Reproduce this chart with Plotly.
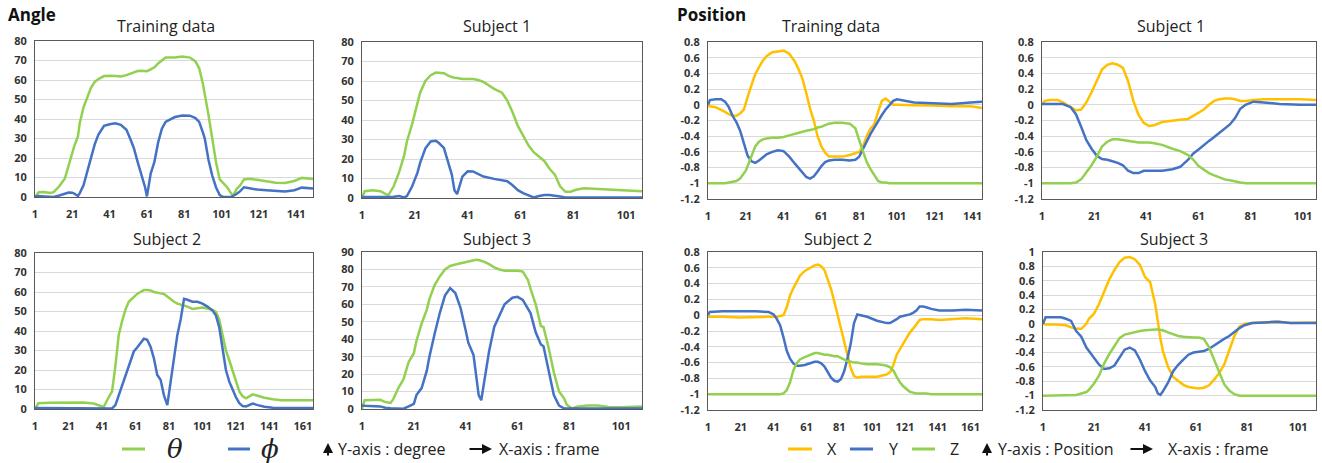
import plotly.graph_objects as go

W, H = 1322, 463

# ---------------- DATA ----------------
# Angle - Training data
ang_train_frames = [1, 3, 6, 9, 11, 14, 17, 19, 21, 22, 24, 25, 27, 29, 31, 33, 35, 38, 41, 44, 47, 50, 52, 54, 56, 58, 60, 61, 63, 65, 67, 69, 71, 73, 76, 80, 84, 87, 89, 91, 92, 94, 96, 98, 100, 102, 104, 106, 107, 109, 111, 113, 116, 120, 125, 130, 135, 140, 144, 150]
ang_train_theta = [0, 2.5, 2.6, 2.1, 2.5, 5.5, 9.5, 16, 23, 26, 31, 38, 46, 51, 56, 59, 60.5, 62, 62.2, 62, 61.8, 62.5, 63.2, 64, 64.6, 64.8, 64.5, 64.5, 65.5, 66.5, 68.5, 70, 71.5, 71.6, 71.6, 72, 71.5, 69.5, 66, 58, 53, 42, 30, 18, 9, 7, 5, 2, 0.5, 4, 6, 9, 9.3, 8.8, 8, 7.3, 7.2, 8.2, 9.8, 9.2]
ang_train_phi = [0.3, 0.5, 0.3, 0, 0, 0.8, 1.8, 2.3, 2.2, 1.8, 0.5, 2, 6, 13, 19, 27, 32, 36.5, 37.3, 37.8, 37, 34.5, 30, 25, 18, 12, 5, 0.3, 12, 18, 28, 35, 38.5, 39.5, 41, 41.8, 41.7, 40.5, 38.5, 33, 30, 19, 11, 5, 1, 0, 0, 0, 0.5, 1.5, 3, 5, 4.5, 3.8, 3.5, 3, 2.8, 3.5, 4.8, 4.3]

# Angle - Subject 1
ang_s1_frames = [1, 2, 5, 8, 10, 11, 13, 15, 17, 18, 20, 22, 23, 25, 27, 29, 30, 32, 34, 35, 36, 37, 39, 41, 43, 45, 47, 51, 54, 56, 58, 60, 62, 64, 66, 68, 70, 72, 74, 76, 78, 80, 82, 85, 90, 95, 100, 107]
ang_s1_theta = [0, 3.5, 4, 3.5, 2, 1.5, 6, 13, 22, 29, 38, 48, 54, 60, 63, 64.3, 64.3, 64, 62.5, 62, 61.7, 61.5, 61, 61, 61, 60.5, 59.5, 56, 54, 50, 44, 37, 32, 27, 23.5, 21, 19, 15, 12, 6, 3.2, 3.2, 4.2, 5, 4.7, 4.2, 3.8, 3.5]
ang_s1_phi = [0.5, 0.5, 0.5, 0.5, 0.5, 0.5, 0.6, 1, 0.3, 1, 6, 13, 18, 25.5, 29, 29.3, 28.3, 25.7, 17, 12, 4, 2, 11, 13.7, 13.6, 12.2, 11, 9.8, 9.3, 8.6, 6.5, 4, 2.5, 1.2, 0.3, 1, 1.5, 1.5, 1.3, 0.8, 0.3, 0.3, 0.5, 0.5, 0.5, 0.4, 0.3, 0.3]

# Angle - Subject 2
ang_s2_frames = [1, 3, 10, 20, 30, 36, 40, 42, 45, 47, 49, 51, 53, 55, 57, 60, 62, 64, 66, 68, 70, 72, 74, 76, 78, 80, 82, 84, 86, 88, 90, 92, 95, 98, 101, 104, 107, 109, 111, 113, 115, 117, 119, 121, 123, 125, 127, 129, 131, 134, 138, 143, 148, 155, 167]
ang_s2_theta = [0, 3, 3.2, 3.3, 3.3, 2.8, 1.8, 1, 6, 9, 22, 38, 45, 51, 55, 57.5, 59, 60, 61, 61, 60.8, 60, 59.5, 59.3, 59, 57.5, 56.5, 55, 54, 53.5, 53.3, 52.5, 51.3, 51.6, 52, 51.5, 50.8, 49.8, 46, 38, 30, 25, 20, 14, 9, 6.5, 5.5, 6.5, 7.5, 6.8, 5.8, 5, 4.5, 4.5, 4.5]
ang_s2_phi = [0.5, 0.5, 0.5, 0.5, 0.5, 0.5, 0.4, 0.3, 0.3, 0.3, 2, 7, 12, 18, 23, 29.5, 31.5, 33.5, 36, 35.5, 32, 26, 17.5, 15, 7, 2, 14, 24, 38, 46, 56.5, 56, 55, 55, 54, 52.5, 50.5, 48, 42, 31, 20, 14, 10, 6, 3, 1.5, 1.3, 2, 2.8, 2, 1.2, 0.7, 0.5, 0.5, 0.5]

# Angle - Subject 3
ang_s3_frames = [1, 2, 8, 10, 12, 13, 15, 17, 19, 21, 22, 24, 26, 27, 29, 31, 33, 35, 37, 39, 41, 42, 44, 45, 46, 47, 48, 50, 52, 54, 56, 59, 61, 63, 65, 66, 68, 70, 71, 73, 75, 77, 79, 80, 82, 84, 88, 92, 96, 101, 109]
ang_s3_theta = [0, 5, 5.3, 4, 3.5, 5.5, 12, 17, 27, 32, 39, 49, 57, 63, 71, 76, 80, 82, 82.8, 83.5, 84.3, 84.6, 85.2, 85.5, 85.4, 85, 84.5, 83, 81.2, 80, 79.3, 79.3, 79.3, 78.8, 74, 69, 60, 47.5, 47, 35, 21, 10, 6, 2.5, 0.3, 1.3, 2, 2, 1.2, 1, 1.5]
ang_s3_phi = [2, 1.8, 1.5, 0.7, 0.4, 0.3, 0.2, 0.2, 1.5, 3, 8, 12, 22, 30, 43, 55, 65, 69.3, 66.5, 58, 45, 38, 31, 20, 8, 5, 15, 33, 47, 54, 60, 63.8, 64.3, 62.5, 58, 55, 44, 37, 36, 21, 8, 2, 0.3, 0.3, 0.3, 0.3, 0.3, 0.3, 0.3, 0.3, 0.3]

# Position - Training data
pos_train_frames = [1, 2, 5, 8, 10, 12, 14, 16, 18, 20, 21, 22, 24, 26, 28, 30, 32, 35, 38, 41, 44, 47, 49, 51, 53, 55, 57, 59, 61, 63, 65, 68, 72, 76, 79, 81, 83, 85, 87, 89, 91, 93, 95, 97, 99, 101, 105, 110, 120, 130, 140, 146]
pos_train_x = [-0.02, -0.02, -0.03, -0.06, -0.09, -0.12, -0.14, -0.14, -0.11, -0.06, 0.03, 0.1, 0.25, 0.39, 0.48, 0.56, 0.62, 0.67, 0.68, 0.69, 0.65, 0.55, 0.45, 0.33, 0.15, -0.05, -0.2, -0.4, -0.53, -0.61, -0.66, -0.66, -0.66, -0.64, -0.62, -0.6, -0.53, -0.4, -0.3, -0.25, -0.09, 0.05, 0.08, 0.04, 0.0, 0.0, 0.0, -0.005, -0.01, -0.02, -0.02, -0.04]
pos_train_y = [0, 0.06, 0.07, 0.07, 0.04, -0.03, -0.14, -0.22, -0.33, -0.5, -0.58, -0.65, -0.72, -0.74, -0.71, -0.67, -0.63, -0.6, -0.58, -0.59, -0.66, -0.75, -0.81, -0.87, -0.92, -0.94, -0.91, -0.85, -0.78, -0.73, -0.71, -0.7, -0.7, -0.71, -0.7, -0.66, -0.56, -0.46, -0.37, -0.29, -0.2, -0.13, -0.06, 0.0, 0.05, 0.07, 0.05, 0.03, 0.02, 0.01, 0.03, 0.04]
pos_train_z = [-1, -1, -1, -1, -1, -0.99, -0.98, -0.97, -0.94, -0.88, -0.84, -0.78, -0.65, -0.53, -0.47, -0.44, -0.43, -0.42, -0.42, -0.41, -0.39, -0.37, -0.35, -0.34, -0.33, -0.32, -0.31, -0.29, -0.28, -0.26, -0.24, -0.23, -0.23, -0.24, -0.3, -0.45, -0.6, -0.73, -0.82, -0.9, -0.97, -0.99, -0.99, -1, -1, -1, -1, -1, -1, -1, -1, -1]

# Position - Subject 1
pos_s1_frames = [1, 2, 4, 7, 9, 12, 14, 16, 18, 20, 22, 24, 26, 28, 30, 32, 34, 36, 38, 40, 42, 44, 47, 51, 54, 57, 59, 61, 63, 65, 67, 69, 71, 73, 75, 77, 79, 82, 86, 92, 100, 106]
pos_s1_x = [0, 0.05, 0.06, 0.06, 0.03, -0.03, -0.07, -0.06, 0.03, 0.16, 0.3, 0.45, 0.51, 0.53, 0.51, 0.47, 0.3, 0.05, -0.13, -0.23, -0.27, -0.26, -0.22, -0.2, -0.19, -0.18, -0.14, -0.1, -0.06, 0.0, 0.05, 0.07, 0.08, 0.08, 0.07, 0.05, 0.05, 0.06, 0.07, 0.07, 0.07, 0.06]
pos_s1_y = [0.01, 0.01, 0.01, 0.01, 0.01, -0.03, -0.12, -0.28, -0.45, -0.56, -0.65, -0.69, -0.7, -0.72, -0.74, -0.77, -0.84, -0.87, -0.87, -0.84, -0.84, -0.84, -0.84, -0.82, -0.79, -0.7, -0.62, -0.57, -0.51, -0.46, -0.41, -0.36, -0.3, -0.25, -0.17, -0.05, 0.0, 0.04, 0.03, 0.01, 0.0, 0.0]
pos_s1_z = [-1, -1, -1, -1, -1, -1, -0.99, -0.95, -0.86, -0.77, -0.66, -0.53, -0.47, -0.44, -0.44, -0.45, -0.46, -0.47, -0.48, -0.48, -0.48, -0.49, -0.51, -0.56, -0.59, -0.64, -0.7, -0.78, -0.83, -0.87, -0.9, -0.93, -0.95, -0.96, -0.98, -0.99, -1, -1, -1, -1, -1, -1]

# Position - Subject 2
pos_s2_frames = [1, 2, 10, 20, 30, 38, 41, 43, 45, 47, 49, 51, 53, 55, 57, 60, 63, 66, 68, 70, 72, 74, 76, 78, 80, 82, 84, 86, 88, 90, 92, 94, 98, 104, 108, 110, 112, 114, 116, 118, 120, 122, 124, 126, 128, 130, 132, 134, 137, 142, 150, 158, 168]
pos_s2_x = [-0.02, -0.02, -0.02, -0.03, -0.02, -0.02, -0.02, -0.02, -0.01, 0.0, 0.1, 0.25, 0.34, 0.42, 0.5, 0.56, 0.6, 0.63, 0.64, 0.62, 0.57, 0.45, 0.33, 0.17, 0.0, -0.2, -0.37, -0.53, -0.67, -0.77, -0.79, -0.78, -0.78, -0.78, -0.76, -0.75, -0.72, -0.63, -0.5, -0.42, -0.36, -0.29, -0.22, -0.17, -0.12, -0.06, -0.05, -0.05, -0.05, -0.06, -0.05, -0.04, -0.05]
pos_s2_y = [0.0, 0.04, 0.05, 0.05, 0.05, 0.04, 0.01, -0.05, -0.13, -0.28, -0.45, -0.55, -0.61, -0.64, -0.64, -0.63, -0.61, -0.59, -0.59, -0.61, -0.65, -0.72, -0.79, -0.83, -0.84, -0.81, -0.71, -0.55, -0.36, -0.1, 0.01, 0.0, -0.02, -0.07, -0.09, -0.1, -0.1, -0.08, -0.05, -0.02, -0.01, 0.0, 0.01, 0.03, 0.06, 0.11, 0.11, 0.1, 0.08, 0.06, 0.06, 0.07, 0.06]
pos_s2_z = [-1, -1, -1, -1, -1, -1, -1, -1, -1, -0.99, -0.95, -0.85, -0.7, -0.61, -0.56, -0.53, -0.5, -0.48, -0.48, -0.49, -0.5, -0.5, -0.51, -0.52, -0.52, -0.54, -0.57, -0.58, -0.59, -0.6, -0.6, -0.61, -0.62, -0.62, -0.63, -0.64, -0.66, -0.7, -0.78, -0.85, -0.9, -0.94, -0.97, -0.98, -0.99, -0.99, -0.99, -0.99, -1, -1, -1, -1, -1]

# Position - Subject 3
pos_s3_frames = [1, 2, 5, 8, 10, 12, 14, 16, 18, 19, 21, 23, 25, 27, 29, 31, 33, 35, 37, 39, 41, 43, 45, 46, 47, 48, 50, 52, 54, 56, 58, 60, 62, 64, 66, 68, 70, 72, 74, 76, 78, 80, 83, 88, 93, 98, 104, 108]
pos_s3_x = [0, -0.01, -0.01, -0.01, -0.02, -0.05, -0.07, -0.07, 0.0, 0.07, 0.14, 0.28, 0.45, 0.62, 0.75, 0.86, 0.92, 0.93, 0.9, 0.82, 0.65, 0.58, 0.27, 0.0, -0.2, -0.38, -0.6, -0.74, -0.8, -0.85, -0.88, -0.89, -0.9, -0.89, -0.86, -0.78, -0.69, -0.57, -0.37, -0.17, -0.04, 0.0, 0.01, 0.02, 0.03, 0.01, 0.02, 0.02]
pos_s3_y = [0, 0.09, 0.09, 0.09, 0.07, 0.04, -0.1, -0.18, -0.33, -0.38, -0.47, -0.57, -0.63, -0.62, -0.58, -0.47, -0.36, -0.33, -0.37, -0.5, -0.66, -0.79, -0.88, -0.97, -0.99, -0.94, -0.82, -0.66, -0.57, -0.5, -0.43, -0.4, -0.39, -0.38, -0.35, -0.3, -0.25, -0.21, -0.17, -0.11, -0.06, -0.02, 0.01, 0.02, 0.03, 0.01, 0.01, 0.01]
pos_s3_z = [-1, -1, -1, -1, -1, -1, -0.99, -0.97, -0.95, -0.92, -0.83, -0.72, -0.55, -0.42, -0.31, -0.2, -0.15, -0.13, -0.11, -0.1, -0.09, -0.08, -0.08, -0.08, -0.08, -0.09, -0.12, -0.15, -0.17, -0.18, -0.19, -0.19, -0.19, -0.21, -0.32, -0.5, -0.68, -0.84, -0.93, -0.98, -1, -1, -1, -1, -1, -1, -1, -1]

# Axis / label texts
x_tick_vals = [1, 21, 41, 61, 81, 101, 121, 141, 161]
angle_ticks_80 = [0, 10, 20, 30, 40, 50, 60, 70, 80]
angle_ticks_90 = [0, 10, 20, 30, 40, 50, 60, 70, 80, 90]
pos_tick_vals = [-1.2, -1, -0.8, -0.6, -0.4, -0.2, 0, 0.2, 0.4, 0.6, 0.8]
pos_tick_text = ["-1.2", "-1", "-0.8", "-0.6", "-0.4", "-0.2", "0", "0.2", "0.4", "0.6", "0.8"]
pos_tick_vals_1 = [-1.2, -1, -0.8, -0.6, -0.4, -0.2, 0, 0.2, 0.4, 0.6, 0.8, 1]
pos_tick_text_1 = ["-1.2", "-1", "-0.8", "-0.6", "-0.4", "-0.2", "0", "0.2", "0.4", "0.6", "0.8", "1"]
panel_titles = ["Training data", "Subject 1", "Subject 2", "Subject 3",
                "Training data", "Subject 1", "Subject 2", "Subject 3"]
section_titles = ["Angle", "Position"]

# ---------------- STYLE ----------------
GREEN = "#92D050"
BLUE = "#4472C4"
ORANGE = "#FFC000"
TXT = "#333333"
FONT = "Open Sans"

# plot areas in pixels: (left, right, top, bottom)
boxes = [
    (35, 313, 41, 197),
    (362, 642, 42, 198),
    (35, 313, 253, 409),
    (362, 642, 252, 409),
    (708, 982, 42, 199),
    (1042, 1316, 42, 199),
    (708, 982, 252, 410),
    (1043, 1316, 252, 410),
]
xmax = [150, 107, 167, 109, 146, 106, 168, 108]
title_pos = [(166, 26), (497, 26), (167, 239), (497, 239),
             (831, 26), (1171, 26), (838, 239), (1174, 239)]

def px(x):
    return x / W

def py(y):
    return 1 - y / H

fig = go.Figure()

angle_sets = [
    (ang_train_frames, ang_train_theta, ang_train_phi),
    (ang_s1_frames, ang_s1_theta, ang_s1_phi),
    (ang_s2_frames, ang_s2_theta, ang_s2_phi),
    (ang_s3_frames, ang_s3_theta, ang_s3_phi),
]
pos_sets = [
    (pos_train_frames, pos_train_x, pos_train_y, pos_train_z),
    (pos_s1_frames, pos_s1_x, pos_s1_y, pos_s1_z),
    (pos_s2_frames, pos_s2_x, pos_s2_y, pos_s2_z),
    (pos_s3_frames, pos_s3_x, pos_s3_y, pos_s3_z),
]

LW = 2.5
for i, (f, th, ph) in enumerate(angle_sets):
    k = i + 1
    xa = "x" if k == 1 else f"x{k}"
    ya = "y" if k == 1 else f"y{k}"
    fig.add_trace(go.Scatter(x=f, y=th, mode="lines", line=dict(color=GREEN, width=LW),
                             xaxis=xa, yaxis=ya, showlegend=False, name="θ"))
    fig.add_trace(go.Scatter(x=f, y=ph, mode="lines", line=dict(color=BLUE, width=LW),
                             xaxis=xa, yaxis=ya, showlegend=False, name="ϕ"))

for i, (f, xs, ys, zs) in enumerate(pos_sets):
    k = i + 5
    xa, ya = f"x{k}", f"y{k}"
    for vals, col, nm in ((xs, ORANGE, "X"), (ys, BLUE, "Y"), (zs, GREEN, "Z")):
        fig.add_trace(go.Scatter(x=f, y=vals, mode="lines", line=dict(color=col, width=LW),
                                 xaxis=xa, yaxis=ya, showlegend=False, name=nm))

layout = dict(
    width=W, height=H,
    margin=dict(l=0, r=0, t=0, b=0, autoexpand=False),
    paper_bgcolor="white", plot_bgcolor="white",
    showlegend=False,
)

tickfont = dict(family=FONT, size=11, color=TXT, weight="bold")
for i, (l, r, t, b) in enumerate(boxes):
    k = i + 1
    xk = "xaxis" if k == 1 else f"xaxis{k}"
    yk = "yaxis" if k == 1 else f"yaxis{k}"
    xs = "x" if k == 1 else f"x{k}"
    ys = "y" if k == 1 else f"y{k}"
    tv = [v for v in x_tick_vals if v <= xmax[i]]
    layout[xk] = dict(
        domain=[px(l), px(r)], anchor=ys, range=[1, xmax[i]],
        tickmode="array", tickvals=tv, ticktext=[str(v) for v in tv],
        showgrid=False, zeroline=False, showline=True, mirror=True,
        linecolor="#595959", linewidth=1, ticks="", tickfont=tickfont,
        ticklabelstandoff=7, automargin=False,
    )
    if k <= 4:
        yt = angle_ticks_90 if k == 4 else angle_ticks_80
        layout[yk] = dict(
            domain=[py(b), py(t)], anchor=xs, range=[0, yt[-1]],
            tickmode="array", tickvals=yt, ticktext=[str(v) for v in yt],
        )
    else:
        if k == 8:
            tvals, ttext, rng = pos_tick_vals_1, pos_tick_text_1, [-1.2, 1]
        else:
            tvals, ttext, rng = pos_tick_vals, pos_tick_text, [-1.2, 0.8]
        layout[yk] = dict(
            domain=[py(b), py(t)], anchor=xs, range=rng,
            tickmode="array", tickvals=tvals, ticktext=ttext,
        )
    layout[yk].update(
        showgrid=True, gridcolor="#D9D9D9", gridwidth=1, zeroline=False,
        showline=True, mirror=True, linecolor="#595959", linewidth=1,
        ticks="", tickfont=tickfont, ticklabelstandoff=5, automargin=False,
    )

fig.update_layout(**layout)

annotations = []
for (tx, ty), txt in zip(title_pos, panel_titles):
    annotations.append(dict(x=px(tx), y=py(ty), xref="paper", yref="paper", text=txt,
                            showarrow=False, xanchor="center", yanchor="middle",
                            font=dict(family=FONT, size=16, color="#222222")))
annotations.append(dict(x=px(6), y=py(15), xref="paper", yref="paper", text=section_titles[0],
                        showarrow=False, xanchor="left", yanchor="middle",
                        font=dict(family=FONT, size=17, color="#111111", weight="bold")))
annotations.append(dict(x=px(675), y=py(15), xref="paper", yref="paper", text=section_titles[1],
                        showarrow=False, xanchor="left", yanchor="middle",
                        font=dict(family=FONT, size=17, color="#111111", weight="bold")))

# custom legend
LY = 449
shapes = []
def seg(x0, x1, col):
    shapes.append(dict(type="line", xref="paper", yref="paper", x0=px(x0), x1=px(x1),
                       y0=py(LY), y1=py(LY), line=dict(color=col, width=3)))

def label(x, txt, size=16, family=FONT, anchor="left", italic=False):
    annotations.append(dict(x=px(x), y=py(LY), xref="paper", yref="paper",
                            text=(f"<i>{txt}</i>" if italic else txt), showarrow=False,
                            xanchor=anchor, yanchor="middle",
                            font=dict(family=family, size=size, color="#222222")))

def up_arrow(x):
    annotations.append(dict(x=px(x), y=py(443), xref="paper", yref="paper", text="",
                            showarrow=True, ax=0, ay=14, axref="pixel", ayref="pixel",
                            arrowhead=2, arrowsize=1, arrowwidth=2, arrowcolor="#111111"))

def right_arrow(x):
    annotations.append(dict(x=px(x), y=py(LY), xref="paper", yref="paper", text="",
                            showarrow=True, ax=-24, ay=0, axref="pixel", ayref="pixel",
                            arrowhead=2, arrowsize=1, arrowwidth=2, arrowcolor="#111111"))

# Angle legend
seg(122, 145, GREEN)
label(175, "θ", size=26, family="DejaVu Serif", anchor="center", italic=True)
seg(228, 250, BLUE)
label(270, "ϕ", size=26, family="DejaVu Serif", anchor="center", italic=True)
up_arrow(328)
label(336, "Y-axis : degree")
right_arrow(492)
label(497, "X-axis : frame")

# Position legend
seg(788, 812, ORANGE)
label(832, "X", anchor="center")
seg(850, 873, BLUE)
label(893, "Y", anchor="center")
seg(912, 935, GREEN)
label(955, "Z", anchor="center")
up_arrow(987)
label(996, "Y-axis : Position")
right_arrow(1153)
label(1166, "X-axis : frame")

fig.update_layout(annotations=annotations, shapes=shapes)
fig.write_html(
    "out.html",
    config={"displayModeBar": False},
    post_script="document.body.style.margin='0px';document.body.style.overflow='hidden';",
)
